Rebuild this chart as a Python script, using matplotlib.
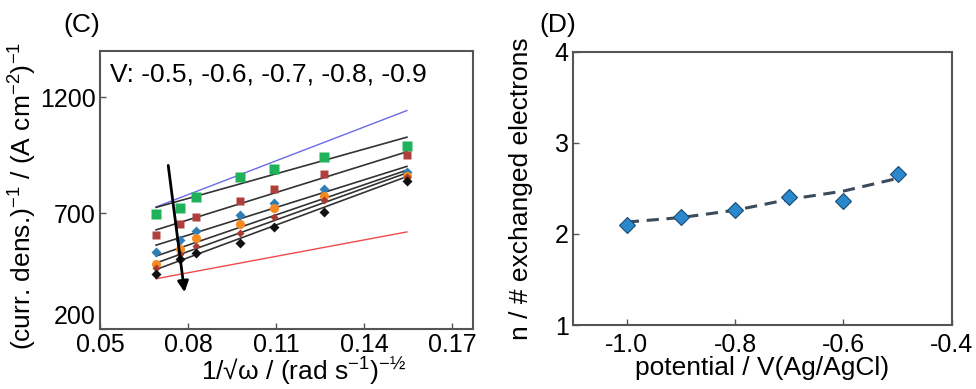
import matplotlib
matplotlib.use('Agg')
import matplotlib.pyplot as plt
import numpy as np

plt.rcParams['font.family'] = ['Liberation Sans', 'DejaVu Sans']
plt.rcParams['mathtext.fontset'] = 'custom'
plt.rcParams['mathtext.rm'] = 'Liberation Sans'
plt.rcParams['mathtext.it'] = 'Liberation Sans'

# (C) Koutecky-Levich data, x = 1/sqrt(omega)
inv_sqrt_w = [0.0691, 0.0773, 0.0826, 0.0977, 0.1093, 0.1262, 0.1545]
green = [696, 724, 769, 858, 890, 942, 992]
brown = [606, 654, 683, 751, 804, 869, 952]
blue = [531, 585, 623, 694, 743, 804, 876]
orange = [479, 544, 592, 653, 722, 775, 861]
darkred = [463, 524, 559, 614, 683, 755, 856]
black = [438, 501, 527, 573, 642, 707, 841]

# fitted lines, value at first and last x
fit_start = [725, 628, 562, 515, 485, 457]
fit_end = [1028, 965, 902, 886, 874, 858]
n2_line = [727, 1143]   # blue theoretical
n4_line = [417, 619]    # red theoretical

# (D) number of electrons
potential = [-1.0, -0.9, -0.8, -0.7, -0.6, -0.5]
n_el = [2.10, 2.19, 2.26, 2.41, 2.36, 2.66]
n_trend = [2.13, 2.18, 2.26, 2.38, 2.47, 2.61]

fig = plt.figure(figsize=(9.76, 3.89), dpi=100)
ax1 = fig.add_axes([0.1025, 0.1542, 0.3821, 0.7147])
ax2 = fig.add_axes([0.5868, 0.1645, 0.3883, 0.7025])

spine_col = '#555555'
fs_tick = 18
fs_lab = 19

xe = [inv_sqrt_w[0], inv_sqrt_w[-1]]
ax1.plot(xe, n2_line, color='#6a6ae8', lw=1.0, zorder=2)
ax1.plot(xe, n4_line, color='#f04a4a', lw=1.0, zorder=2)
for s, e in zip(fit_start, fit_end):
    ax1.plot(xe, [s, e], color='#333333', lw=1.2, zorder=2)

ax1.plot(inv_sqrt_w, green, 's', color='#1fb25a', ms=7, mec='none', zorder=3)
ax1.plot(inv_sqrt_w, brown, 's', color='#b0403c', ms=6, mec='none', zorder=3)
ax1.plot(inv_sqrt_w, blue, 'D', color='#2f7fb5', ms=5, mec='none', zorder=3)
ax1.plot(inv_sqrt_w, orange, 'o', color='#f58a22', ms=6.5, mec='none', zorder=3)
ax1.plot(inv_sqrt_w, darkred, 'D', color='#a83a30', ms=4.5, mec='none', zorder=3)
ax1.plot(inv_sqrt_w, black, 'D', color='#111111', ms=5, mec='none', zorder=4)

ax1.annotate('', xy=(0.0789, 347), xytext=(0.0731, 918),
             arrowprops=dict(arrowstyle='-|>', color='black', lw=2,
                             mutation_scale=16), zorder=5)

ax1.text(0.0535, 1300, 'V: -0.5, -0.6, -0.7, -0.8, -0.9', fontsize=fs_lab,
         va='center', ha='left')

ax1.set_xlim(0.05, 0.177)
ax1.set_ylim(200, 1400)
ax1.set_xticks([0.05, 0.08, 0.11, 0.14, 0.17])
ax1.set_xticklabels(['0.05', '0.08', '0.11', '0.14', '0.17'])
ax1.set_yticks([200, 700, 1200])
ax1.set_xlabel(r'1/√ω / (rad s$^{-1}$)$^{-½}$', fontsize=fs_lab)
ax1.xaxis.set_label_coords(0.545, -0.095)
ax1.set_ylabel(r'(curr. dens.)$^{-1}$ / (A cm$^{-2}$)$^{-1}$', fontsize=fs_lab)
ax1.yaxis.set_label_coords(-0.165, 0.48)
fig.text(0.084, 0.935, '(C)', fontsize=fs_lab, ha='center', va='center')

ax2.plot(potential, n_trend, '--', color='#3b4b5c', lw=2.2, dashes=(4, 2.5), zorder=2)
ax2.plot(potential, n_el, 'D', color='#2a88cc', ms=8, mec='#1a4a70', mew=0.8, zorder=3)
ax2.set_xlim(-1.1, -0.4)
ax2.set_ylim(1, 4)
ax2.set_xticks([-1.0, -0.8, -0.6, -0.4])
ax2.set_xticklabels(['-1.0', '-0.8', '-0.6', '-0.4'])
ax2.set_yticks([1, 2, 3, 4])
ax2.set_xlabel('potential / V(Ag/AgCl)', fontsize=fs_lab)
ax2.xaxis.set_label_coords(0.5, -0.115)
ax2.set_ylabel('n / # exchanged electrons', fontsize=fs_lab)
ax2.yaxis.set_label_coords(-0.105, 0.5)
fig.text(0.571, 0.935, '(D)', fontsize=fs_lab, ha='center', va='center')

for ax in (ax1, ax2):
    for sp in ax.spines.values():
        sp.set_color(spine_col)
        sp.set_linewidth(1.5)
    ax.tick_params(direction='in', length=4, width=1, color=spine_col,
                   labelsize=fs_tick, pad=3)
ax2.tick_params(axis='x', pad=6)

ax1.get_yticklabels()[0].set_va('bottom')

fig.savefig('out.png', dpi=100)
